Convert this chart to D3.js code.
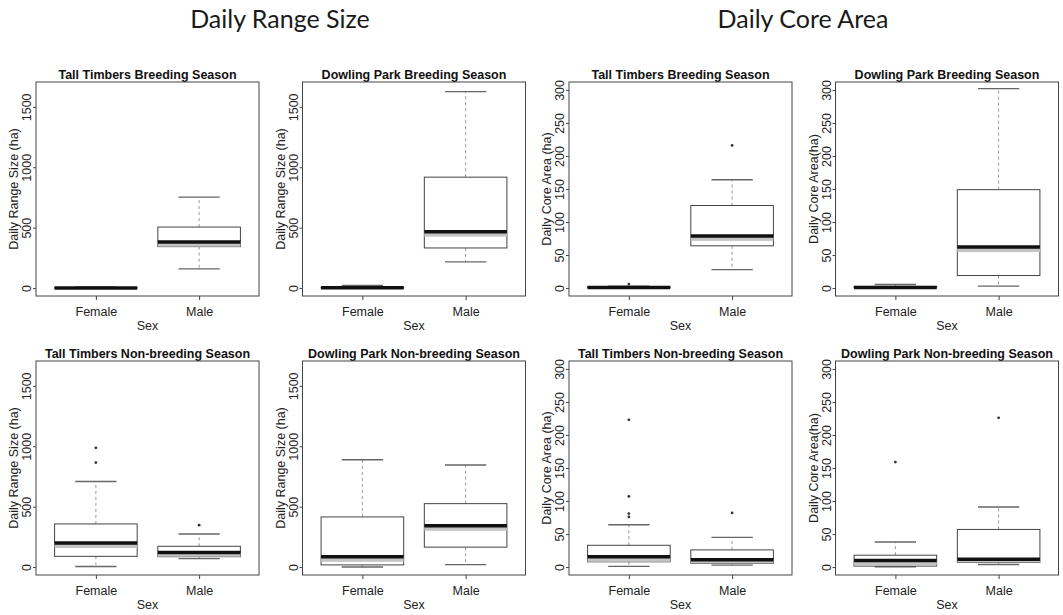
<!DOCTYPE html>
<html>
<head>
<meta charset="utf-8">
<script src="https://cdn.jsdelivr.net/npm/d3@7"></script>
<style>
  body { margin: 0; background: #fff; }
  svg text { font-family: "Liberation Sans", Arial, sans-serif; fill: #222; }
  svg text.main-title { font-family: Lato, "Open Sans", sans-serif; fill: #1a1a1a; }
</style>
</head>
<body>
<svg id="chart"></svg>
<script>
const sexes = ["Female", "Male"];

const panelTitles = [
  "Tall Timbers Breeding Season", "Dowling Park Breeding Season",
  "Tall Timbers Breeding Season", "Dowling Park Breeding Season",
  "Tall Timbers Non-breeding Season", "Dowling Park Non-breeding Season",
  "Tall Timbers Non-breeding Season", "Dowling Park Non-breeding Season"
];
const yTitles = [
  "Daily Range Size (ha)", "Daily Range Size (ha)", "Daily Core Area (ha)", "Daily Core Area(ha)",
  "Daily Range Size (ha)", "Daily Range Size (ha)", "Daily Core Area (ha)", "Daily Core Area(ha)"
];
const groupTitles = ["Daily Range Size", "Daily Core Area"];

const rangeTicks = [0, 500, 1000, 1500];
const coreTicks = [0, 50, 100, 150, 200, 250, 300];
const rangeLimits = [0, 1640];
const coreLimits = [0, 300];

// [lower whisker, Q1, median, Q3, upper whisker] for Female, Male
const ttBreedRange = [[0, 0, 1, 4, 10], [159, 343, 382, 505, 753]];
const dpBreedRange = [[0, 0, 2, 6, 22], [217, 332, 467, 918, 1626]];
const ttBreedCore = [[0, 0.5, 1, 2, 3], [28, 64, 79, 125, 164]];
const dpBreedCore = [[0, 0.5, 1, 2.5, 5.5], [3, 19, 62, 149, 302]];
const ttNonRange = [[5, 89, 199, 357, 708], [70, 86, 121, 172, 274]];
const dpNonRange = [[0, 18, 85, 415, 888], [20, 165, 342, 525, 845]];
const ttNonCore = [[1, 8, 15.5, 33, 64], [3, 5.5, 11, 26, 45]];
const dpNonCore = [[0.5, 1.5, 10, 18, 38], [4, 7, 12, 57, 91]];

// outliers for Female, Male
const ttBreedRangeOut = [[], []];
const dpBreedRangeOut = [[], []];
const ttBreedCoreOut = [[6], [216]];
const dpBreedCoreOut = [[], []];
const ttNonRangeOut = [[987, 865], [347]];
const dpNonRangeOut = [[], []];
const ttNonCoreOut = [[223, 107, 81, 76], [82]];
const dpNonCoreOut = [[159], [226]];

const panels = [
  { stats: ttBreedRange, out: ttBreedRangeOut, limits: rangeLimits, ticks: rangeTicks },
  { stats: dpBreedRange, out: dpBreedRangeOut, limits: rangeLimits, ticks: rangeTicks },
  { stats: ttBreedCore, out: ttBreedCoreOut, limits: coreLimits, ticks: coreTicks },
  { stats: dpBreedCore, out: dpBreedCoreOut, limits: coreLimits, ticks: coreTicks },
  { stats: ttNonRange, out: ttNonRangeOut, limits: rangeLimits, ticks: rangeTicks },
  { stats: dpNonRange, out: dpNonRangeOut, limits: rangeLimits, ticks: rangeTicks },
  { stats: ttNonCore, out: ttNonCoreOut, limits: coreLimits, ticks: coreTicks },
  { stats: dpNonCore, out: dpNonCoreOut, limits: coreLimits, ticks: coreTicks }
].map((p, i) => ({ ...p, title: panelTitles[i], yTitle: yTitles[i] }));

const width = 1063;
const height = 615;
const plotW = 223;
const plotH = 214;
const colStep = 266.5;
const firstCol = 36;
const rowTops = [82, 361];

const svg = d3.select("#chart").attr("width", width).attr("height", height);

// group headings over each pair of columns
svg.selectAll("text.main-title")
  .data(groupTitles)
  .enter()
  .append("text")
  .attr("class", "main-title")
  .attr("x", (d, i) => [280, 803][i])
  .attr("y", 28)
  .attr("text-anchor", "middle")
  .attr("font-size", 25)
  .text((d) => d);

function drawPanel(p, left, top) {
  const g = svg.append("g").attr("transform", `translate(${left}, ${top})`);

  // R style axis ranges: 4% padding each side
  const pad = 0.04 * (p.limits[1] - p.limits[0]);
  const y = d3.scaleLinear().domain([p.limits[0] - pad, p.limits[1] + pad]).range([plotH, 0]);
  const x = d3.scaleLinear().domain([0.42, 2.58]).range([0, plotW]);

  // y axis with rotated labels
  const yAxis = g.append("g")
    .call(d3.axisLeft(y).tickValues(p.ticks).tickSize(3).tickFormat(d3.format("d")));
  yAxis.select(".domain").remove();
  yAxis.selectAll("line").attr("stroke", "#444");
  yAxis.selectAll("text")
    .attr("transform", "rotate(-90)")
    .attr("x", 0)
    .attr("y", -5)
    .attr("dy", 0)
    .attr("text-anchor", "middle")
    .attr("font-size", 12.5);

  // x axis
  const xAxis = g.append("g")
    .attr("transform", `translate(0, ${plotH})`)
    .call(d3.axisBottom(x).tickValues([1, 2]).tickSize(4).tickFormat((d) => sexes[d - 1]));
  xAxis.select(".domain").remove();
  xAxis.selectAll("line").attr("stroke", "#444");
  xAxis.selectAll("text").attr("y", 20).attr("dy", 0).attr("font-size", 12.5);

  g.append("text")
    .attr("x", plotW / 2)
    .attr("y", plotH + 34)
    .attr("text-anchor", "middle")
    .attr("font-size", 12.5)
    .text("Sex");

  g.append("text")
    .attr("transform", `translate(-18, ${plotH / 2}) rotate(-90)`)
    .attr("text-anchor", "middle")
    .attr("font-size", 12.5)
    .text(p.yTitle);

  g.append("text")
    .attr("x", plotW / 2)
    .attr("y", -3)
    .attr("text-anchor", "middle")
    .attr("font-size", 12.5)
    .attr("font-weight", "bold")
    .style("fill", "#111")
    .text(p.title);

  // boxes
  p.stats.forEach((s, i) => {
    const cx = x(i + 1);
    const [lo, q1, med, q3, hi] = s;
    const bx = g.append("g");

    bx.append("line")
      .attr("x1", cx).attr("x2", cx)
      .attr("y1", y(q3)).attr("y2", y(hi))
      .attr("stroke", "#999").attr("stroke-dasharray", "3,3");
    bx.append("line")
      .attr("x1", cx).attr("x2", cx)
      .attr("y1", y(q1)).attr("y2", y(lo))
      .attr("stroke", "#999").attr("stroke-dasharray", "3,3");

    [lo, hi].forEach((v) => {
      bx.append("line")
        .attr("x1", x(i + 0.8)).attr("x2", x(i + 1.2))
        .attr("y1", y(v)).attr("y2", y(v))
        .attr("stroke", "#666").attr("stroke-width", 1.4);
    });

    bx.append("rect")
      .attr("x", x(i + 0.6))
      .attr("width", x(i + 1.4) - x(i + 0.6))
      .attr("y", y(q3))
      .attr("height", Math.max(0.5, y(q1) - y(q3)))
      .attr("fill", "#fff")
      .attr("stroke", "#444");

    // soft grey shade just below the median band
    const shade = Math.min(5, y(q1) - y(med));
    if (shade > 0) {
      bx.append("rect")
        .attr("x", x(i + 0.6))
        .attr("width", x(i + 1.4) - x(i + 0.6))
        .attr("y", y(med))
        .attr("height", shade)
        .attr("fill", "#c4c4c4");
    }

    bx.append("line")
      .attr("x1", x(i + 0.6)).attr("x2", x(i + 1.4))
      .attr("y1", y(med)).attr("y2", y(med))
      .attr("stroke", "#111").attr("stroke-width", 3.5);

    bx.selectAll("circle")
      .data(p.out[i])
      .enter()
      .append("circle")
      .attr("cx", cx)
      .attr("cy", (d) => y(d))
      .attr("r", 1.4)
      .attr("fill", "#333");
  });

  g.append("rect")
    .attr("width", plotW)
    .attr("height", plotH)
    .attr("fill", "none")
    .attr("stroke", "#444");
}

panels.forEach((p, i) => {
  const col = i % 4;
  const row = Math.floor(i / 4);
  drawPanel(p, firstCol + col * colStep, rowTops[row]);
});
</script>
</body>
</html>
